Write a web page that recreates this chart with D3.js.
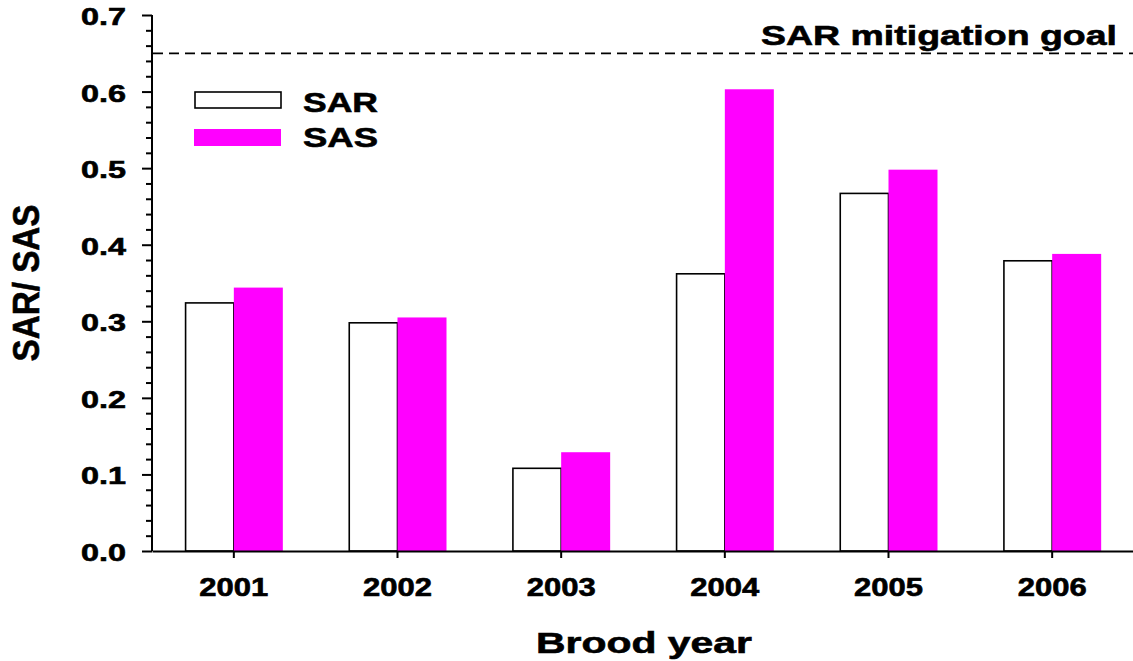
<!DOCTYPE html>
<meta charset="utf-8">
<script src="https://d3js.org/d3.v7.min.js"></script>
<style>
  body { margin: 0; background: #fff; }
  text { font-family: "Liberation Sans", Arial, sans-serif; font-weight: bold; stroke: #000; stroke-width: 0.6px; }
</style>
<div id="my_dataviz"></div>
<script>

  // data
  var years = ["2001", "2002", "2003", "2004", "2005", "2006"];
  var sarValues = [0.324, 0.298, 0.108, 0.362, 0.467, 0.379];
  var sasValues = [0.344, 0.305, 0.129, 0.603, 0.498, 0.388];
  var seriesNames = ["SAR", "SAS"];
  var yTicks = [0.0, 0.1, 0.2, 0.3, 0.4, 0.5, 0.6, 0.7];
  var goalValue = 0.65;
  var goalLabel = "SAR mitigation goal";

  var width = 1133, height = 661;
  var margin = { top: 15, right: 0, bottom: 110, left: 152 };

  var svg = d3.select("#my_dataviz")
    .append("svg")
    .attr("width", width)
    .attr("height", height);

  var xScale = d3.scaleBand().domain(years).range([margin.left, 1134]).padding(0);
  var groupWidth = 98;
  var xSub = d3.scaleBand().domain(seriesNames).range([0, groupWidth]);
  var yScale = d3.scaleLinear().domain([0, 0.7]).range([height - margin.bottom, margin.top]);

  var rows = years.map(function (y, i) {
    return { year: y, SAR: sarValues[i], SAS: sasValues[i] };
  });

  // bars
  var groups = svg.append("g").selectAll("g")
    .data(rows)
    .enter().append("g")
    .attr("transform", function (d) {
      return "translate(" + (xScale(d.year) + xScale.bandwidth() / 2 - groupWidth / 2) + ",0)";
    });

  groups.append("rect")
    .attr("x", xSub("SAR") + 0.75)
    .attr("y", function (d) { return yScale(d.SAR); })
    .attr("width", xSub.bandwidth() - 0.75)
    .attr("height", function (d) { return yScale(0) - yScale(d.SAR); })
    .attr("fill", "#fff")
    .attr("stroke", "#000")
    .attr("stroke-width", 1.6);

  groups.append("rect")
    .attr("x", xSub("SAS"))
    .attr("y", function (d) { return yScale(d.SAS); })
    .attr("width", xSub.bandwidth())
    .attr("height", function (d) { return yScale(0) - yScale(d.SAS); })
    .attr("fill", "#ff00ff");

  // Y axis with minor ticks
  var yAxis = svg.append("g")
    .attr("transform", "translate(" + margin.left + ",0)");
  yAxis.call(d3.axisLeft(yScale).tickValues(d3.range(0, 0.7001, 0.02)).tickSize(6).tickFormat(""));
  yAxis.call(function (g) {
    g.selectAll(".tick").filter(function (d) { return Math.abs(Math.round(d * 10) - d * 10) < 1e-6; })
      .select("line").attr("x2", -10);
  });
  yAxis.select(".domain").attr("d", "M0," + yScale(0.7) + "V" + yScale(0));
  yAxis.selectAll("line, path").attr("stroke", "#000").attr("stroke-width", 2);

  // the original lettering is wide, so stretch with textLength
  svg.append("g").selectAll("text")
    .data(yTicks)
    .enter().append("text")
    .attr("x", 126)
    .attr("y", function (d) { return yScale(d) + 10; })
    .attr("text-anchor", "end")
    .attr("textLength", 45)
    .attr("lengthAdjust", "spacingAndGlyphs")
    .style("font-size", "23.5px")
    .text(function (d) { return d.toFixed(1); });

  // X axis
  var xAxis = svg.append("g")
    .attr("transform", "translate(0," + yScale(0) + ")")
    .call(d3.axisBottom(xScale).tickSize(7).tickSizeOuter(0));
  xAxis.selectAll("line, path").attr("stroke", "#000").attr("stroke-width", 2);
  xAxis.selectAll("text")
    .attr("fill", "#000")
    .attr("dy", null)
    .attr("y", 45)
    .attr("textLength", 69)
    .attr("lengthAdjust", "spacingAndGlyphs")
    .style("font-size", "25px")
    .style("font-family", "Liberation Sans, Arial, sans-serif")
    .style("font-weight", "bold");

  // goal line
  svg.append("line")
    .attr("x1", margin.left + 1)
    .attr("x2", width)
    .attr("y1", yScale(goalValue))
    .attr("y2", yScale(goalValue))
    .attr("stroke", "#000")
    .attr("stroke-width", 1.8)
    .attr("stroke-dasharray", "10,6");

  svg.append("text")
    .attr("x", 761)
    .attr("y", 45)
    .attr("textLength", 356)
    .attr("lengthAdjust", "spacingAndGlyphs")
    .style("font-size", "28px")
    .text(goalLabel);

  // legend
  var legend = svg.append("g");
  legend.append("rect")
    .attr("x", 195).attr("y", 92).attr("width", 86).attr("height", 16)
    .attr("fill", "#fff").attr("stroke", "#000").attr("stroke-width", 1.6);
  legend.append("rect")
    .attr("x", 194).attr("y", 129).attr("width", 87).attr("height", 17)
    .attr("fill", "#ff00ff");
  legend.selectAll("text")
    .data(seriesNames)
    .enter().append("text")
    .attr("x", 303)
    .attr("y", function (d, i) { return 112 + i * 35; })
    .attr("textLength", 75)
    .attr("lengthAdjust", "spacingAndGlyphs")
    .style("font-size", "28px")
    .text(function (d) { return d; });

  // axis titles
  svg.append("text")
    .attr("x", 536)
    .attr("y", 653)
    .attr("textLength", 216)
    .attr("lengthAdjust", "spacingAndGlyphs")
    .style("font-size", "30px")
    .text("Brood year");

  svg.append("text")
    .attr("transform", "translate(39,283) rotate(-90)")
    .attr("text-anchor", "middle")
    .attr("textLength", 157)
    .attr("lengthAdjust", "spacingAndGlyphs")
    .style("font-size", "36px")
    .text("SAR/ SAS");

</script>
